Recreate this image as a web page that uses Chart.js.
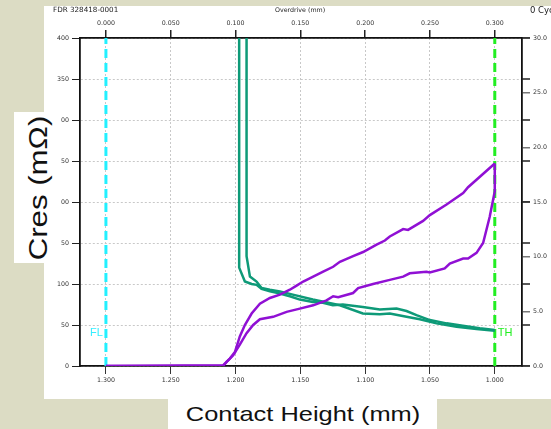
<!DOCTYPE html>
<html>
<head>
<meta charset="utf-8">
<script src="https://cdn.jsdelivr.net/npm/chart.js@4/dist/chart.umd.min.js"></script>
<style>
  html, body { margin: 0; padding: 0; }
  body { width: 551px; height: 429px; background: #dcdcc4; position: relative; overflow: hidden; }
  #panel { position: absolute; left: 44px; top: 6px; width: 507px; height: 393px; background: #fff; }
  #chart { position: absolute; left: 0; top: 0; }
  .txt { position: absolute; white-space: nowrap; color: #222; font-family: "DejaVu Sans", sans-serif; }
  #yTitle { position: absolute; left: 14px; top: 112px; width: 47px; height: 151px; background: #fff; }
  #yTitle span { position: absolute; left: 50%; top: 50%; font: 26px "Liberation Sans", Arial, sans-serif; color: #111;
                 white-space: nowrap; transform: translate(-50%, -50%) rotate(-90deg) scaleX(1.2); }
  #xTitle { position: absolute; left: 168px; top: 399px; width: 269px; height: 30px; background: #fff; }
  #xTitle span { position: absolute; left: 50%; top: 50%; font: 21px "Liberation Sans", Arial, sans-serif; color: #111;
                 white-space: nowrap; transform: translate(-50%, -50%) scaleX(1.21); }
</style>
</head>
<body>
<div id="panel"></div>
<canvas id="chart" width="551" height="429"></canvas>
<div class="txt" style="left:53px; top:5px; font-size:7.2px;">FDR 328418-0001</div>
<div class="txt" style="left:275px; top:6px; font-size:6.3px;">Overdrive (mm)</div>
<div class="txt" style="left:530px; top:5px; font-size:8.5px;">0 Cycl</div>
<div id="yTitle"><span>Cres (mΩ)</span></div>
<div id="xTitle"><span>Contact Height (mm)</span></div>
<script>
// contact height ticks (bottom) and overdrive ticks (top)
const heights = [1.300, 1.250, 1.200, 1.150, 1.100, 1.050, 1.000];
const heightLabels = ['1.300', '1.250', '1.200', '1.150', '1.100', '1.050', '1.000'];
const overdriveLabels = ['0.000', '0.050', '0.100', '0.150', '0.200', '0.250', '0.300'];
const cresTicks = [0, 50, 100, 150, 200, 250, 300, 350, 400];
const cresLabels = ['0', '50', '100', '150', '200', '250', '300', '350', '400'];
const rightTicks = [0, 5, 10, 15, 20, 25, 30];
const rightLabels = ['0.0', '5.0', '10.0', '15.0', '20.0', '25.0', '30.0'];

const flHeight = 1.300;
const thHeight = 1.000;
const markerLabelY = 40;

// resistance traces (mOhm vs contact height)
const p1X = [1.300, 1.2095, 1.2044, 1.2005, 1.1967, 1.1928, 1.1876, 1.1812, 1.1735, 1.1658, 1.1581, 1.1529, 1.1478,
             1.1401, 1.1324, 1.1247, 1.1195, 1.1093, 1.1016, 1.0912, 1.0848, 1.0810, 1.0707, 1.0669, 1.0553, 1.0501,
             1.0372, 1.0244, 1.0206, 1.0000];
const p1Y = [0, 1, 9, 17, 36, 50, 64, 76, 83, 87, 93, 98, 103,
             109, 115, 121, 127, 134, 139, 148, 153, 158, 167, 166, 177, 184,
             197, 211, 218, 247];

const p2X = [1.300, 1.2095, 1.2069, 1.2018, 1.1967, 1.1915, 1.1864, 1.1812, 1.1710, 1.1606, 1.1504, 1.1401, 1.1298,
             1.1247, 1.1208, 1.1093, 1.1054, 1.0939, 1.0810, 1.0707, 1.0656, 1.0527, 1.0501, 1.0386, 1.0347, 1.0244,
             1.0206, 1.0141, 1.0090, 1.0039, 1.0000, 1.0000];
const p2Y = [0, 0, 5, 13, 26, 40, 50, 57, 60, 66, 70, 74, 80,
             85, 84, 89, 95, 100, 105, 109, 113, 115, 114, 119, 125, 131,
             131, 138, 150, 182, 213, 247];

const g1X = [1.1972, 1.1972, 1.1928, 1.1876, 1.1838, 1.1799, 1.1735, 1.1673, 1.1581, 1.1504, 1.1404, 1.1326, 1.1249,
             1.1172, 1.1018, 1.0887, 1.0758, 1.0681, 1.0604, 1.0501, 1.0372, 1.0247, 1.0116, 1.0000];
const g1Y = [900, 120, 103, 100, 99, 94, 91, 89, 85, 81, 78, 77, 74,
             75, 72, 69, 70, 67, 62, 56, 52, 49, 46, 44];

const g2X = [1.1915, 1.1915, 1.1889, 1.1838, 1.1799, 1.1735, 1.1658, 1.1558, 1.1404, 1.1195, 1.1018, 1.0887, 1.0810,
             1.0681, 1.0578, 1.0450, 1.0295, 1.0141, 1.0000];
const g2Y = [900, 134, 109, 103, 95, 93, 91, 87, 81, 74, 64, 63, 64,
             60, 57, 52, 48, 45, 43];

const zip = (xs, ys) => xs.map((x, i) => ({ x: x, y: ys[i] }));

const tickFont = { family: '"DejaVu Sans", sans-serif', size: 6.3 };

const decor = {
    id: 'decor',
    afterDraw(chart) {
        const { ctx, chartArea, scales: { x, y } } = chart;
        ctx.save();
        // the left-axis grid values are also ticked on the right axis
        ctx.strokeStyle = '#222';
        ctx.lineWidth = 1.5;
        cresTicks.forEach(v => {
            const py = y.getPixelForValue(v);
            ctx.beginPath();
            ctx.moveTo(chartArea.right, py);
            ctx.lineTo(chartArea.right + 8, py);
            ctx.stroke();
        });
        ctx.font = '11px "Liberation Sans", sans-serif';
        ctx.textBaseline = 'middle';
        ctx.fillStyle = '#33eeff';
        ctx.textAlign = 'right';
        ctx.fillText('FL', x.getPixelForValue(flHeight) - 3, y.getPixelForValue(markerLabelY));
        ctx.fillStyle = '#22ee22';
        ctx.textAlign = 'left';
        ctx.fillText('TH', x.getPixelForValue(thHeight) + 3, y.getPixelForValue(markerLabelY));
        ctx.restore();
    }
};

const line = (data, color, order) => ({
    data: data, borderColor: color, borderWidth: 2.5, pointRadius: 0, fill: false, tension: 0, order: order
});

new Chart(document.getElementById('chart').getContext('2d'), {
    type: 'line',
    data: {
        datasets: [
            line(zip(p1X, p1Y), '#9010d4', 1),
            line(zip(p2X, p2Y), '#9010d4', 2),
            line(zip(g1X, g1Y), '#0e9a78', 3),
            line(zip(g2X, g2Y), '#0e9a78', 4),
            Object.assign(line([{ x: flHeight, y: 0 }, { x: flHeight, y: 400 }], '#22f0ff', 5), { borderWidth: 3, borderDash: [9, 5] }),
            Object.assign(line([{ x: thHeight, y: 0 }, { x: thHeight, y: 400 }], '#22ee22', 6), { borderWidth: 3, borderDash: [9, 5] })
        ]
    },
    options: {
        responsive: false,
        animation: false,
        devicePixelRatio: 1,
        layout: { padding: 0 },
        plugins: { legend: { display: false }, tooltip: { enabled: false } },
        scales: {
            x: {
                type: 'linear', position: 'bottom', reverse: true, min: 0.979, max: 1.320,
                afterBuildTicks: s => { s.ticks = heights.map(v => ({ value: v })); },
                afterFit: s => { s.height = 63; },
                ticks: { font: tickFont, color: '#333', padding: 3, maxRotation: 0, callback: (v, i) => heightLabels[i] },
                grid: { color: '#c8c8c8', tickColor: '#333', tickLength: 8, lineWidth: 1 },
                border: { color: '#111', width: 1.8, dash: [2, 2] }
            },
            x2: {
                type: 'linear', position: 'top', reverse: true, min: 0.979, max: 1.320,
                afterBuildTicks: s => { s.ticks = heights.map(v => ({ value: v })); },
                afterFit: s => { s.height = 38; },
                ticks: { font: tickFont, color: '#333', padding: 3, maxRotation: 0, callback: (v, i) => overdriveLabels[i] },
                grid: { drawOnChartArea: false, tickColor: '#222', tickLength: 8, lineWidth: 1.5 },
                border: { color: '#111', width: 1.8 }
            },
            y: {
                position: 'left', min: 0, max: 400,
                afterBuildTicks: s => { s.ticks = cresTicks.map(v => ({ value: v })); },
                afterFit: s => { s.width = 80; },
                ticks: { font: tickFont, color: '#333', padding: 3, callback: (v, i) => cresLabels[i] },
                grid: { color: '#c8c8c8', tickColor: '#222', tickLength: 8, lineWidth: 1 },
                border: { color: '#111', width: 1.8, dash: [2, 2] }
            },
            y2: {
                position: 'right', min: 0, max: 30,
                afterBuildTicks: s => { s.ticks = rightTicks.map(v => ({ value: v })); },
                afterFit: s => { s.width = 29; },
                ticks: { font: tickFont, color: '#333', padding: 3, callback: (v, i) => rightLabels[i] },
                grid: { drawOnChartArea: false, tickColor: '#777', tickLength: 8, lineWidth: 1.5 },
                border: { color: '#111', width: 1.8 }
            }
        }
    },
    plugins: [decor]
});
</script>
</body>
</html>
